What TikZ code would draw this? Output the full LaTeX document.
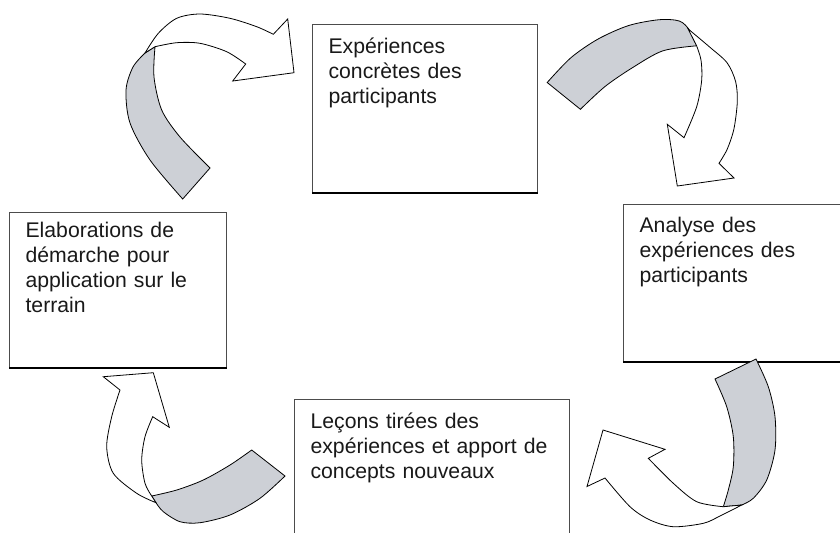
\documentclass[tikz,border=0pt]{standalone}
\usepackage{fontspec}
\setmainfont{Liberation Sans}
\definecolor{foldgray}{RGB}{205,208,214}

\begin{document}
\begin{tikzpicture}[x=0.5pt, y=-0.5pt,
    box/.style={draw=black!70, line width=0.6pt, anchor=north west, align=left,
      inner xsep=8pt, inner ysep=0pt, text=black!90, font=\fontsize{10.6}{12.4}\selectfont},
    back/.style={fill=foldgray, draw=black, line width=0.4pt},
    front/.style={fill=white, draw=black, line width=0.4pt}]
    \useasboundingbox (0,0) rectangle (840,532);
    \clip (0,0) rectangle (840,532);

    % Boxes: name / left / top / width / height / first baseline / text
    \foreach \name/\x/\y/\w/\h/\bl/\txt in {
      exp/312/24/225/168/29/{Expériences\\concrètes des\\participants},
      ana/623/204/240/157/28/{Analyse des\\expériences des\\participants},
      lec/294/399/275/160/29/{Leçons tirées des\\expériences et apport de\\concepts nouveaux},
      ela/9/212/217/155/25/{Elaborations de\\démarche pour\\application sur le\\terrain}} {
      \pgfmathsetmacro\twd{(\w-32)*0.5}
      \pgfmathsetmacro\tht{\bl*0.5}
      \pgfmathsetmacro\tdp{(\h-\bl)*0.5}
      \node[box, text width=\twd pt, text height=\tht pt, text depth=\tdp pt] (\name) at (\x,\y) {\txt};
      \draw[line width=1.1pt] (\name.south west) -- (\name.south east);
    }

    % Arrow from ela to exp
    \filldraw[back] (182.7,199) -- plot[smooth] coordinates {(182.7,199) (150,160) (130,123) (126,90) (133,67) (145,53)}
      -- (155,46.7) -- plot[smooth] coordinates {(155,46.7) (154,77) (161.7,110) (180,137) (210,168)} -- cycle;
    \filldraw[front] plot[smooth] coordinates {(145,53) (158.3,33.3) (176.7,18.3) (200,14) (230,18.3) (256.7,26.7) (273.3,34.3)}
      -- (287.7,19) -- (294,72.7) -- (232.7,81) -- (245.7,64)
      -- plot[smooth] coordinates {(245.7,64) (226.7,51.7) (200,43.3) (176.7,42.7) (155,46.7)} -- cycle;

    % Arrow from exp to ana
    \filldraw[back] (547.2,82.5) -- plot[smooth] coordinates {(547.2,82.5) (570.9,57.7) (598.1,39) (628.7,25.5) (659.2,19.7) (679.6,21.1) (689.8,30.6) (696.6,45.8)}
      -- plot[smooth] coordinates {(696.6,45.8) (662.6,50.9) (632.1,67.9) (604.9,86.6) (580.4,109.3)} -- cycle;
    \filldraw[front] plot[smooth] coordinates {(688.1,28.9) (710.2,47.5) (727.1,62.8) (735.6,81.5) (737.3,101.9) (733.9,129) (727.1,149.4) (719,163.3)}
      -- (734,178) -- (677.3,186) -- (667.3,124.3) -- (684,137.7)
      -- plot[smooth] coordinates {(684,137.7) (696.7,106.7) (701.7,80) (701,60) (696.6,45.8)} -- cycle;

    % Arrow from ana to lec
    \filldraw[back] (715,379) -- (756,359) -- plot[smooth] coordinates {(756,359) (768.3,386.7) (775,416.7) (775,450) (766.7,480) (753.3,498.3) (741.7,505)}
      -- (723.3,506.7) -- plot[smooth] coordinates {(723.3,506.7) (728.3,490) (733.3,466.7) (733.3,436.7) (726.7,406.7) (715,379)} -- cycle;
    \filldraw[front] plot[smooth] coordinates {(741.7,505) (720,516) (703.3,523.3) (673.3,526.7) (650,520) (630,506.7) (605,478)}
      -- (587,486.5) -- (603,430) -- (665,449.3) -- (648.3,458.3)
      -- plot[smooth] coordinates {(648.3,458.3) (673.3,483.3) (696.7,501.7) (723.3,506.7)} -- cycle;

    % Arrow from lec to ela
    \filldraw[back] (251.7,450) -- (285,476) -- plot[smooth] coordinates {(285,476) (260,498.3) (230,515) (200,522.7) (180,521.7) (163.3,511.7) (156,502.7)}
      -- (151.7,496) -- plot[smooth] coordinates {(151.7,496) (176.7,490) (203.3,480) (230,465) (251.7,450)} -- cycle;
    \filldraw[front] plot[smooth] coordinates {(156,502.7) (136.7,493.3) (113.3,473.3) (106.7,446.7) (111.7,416.7) (120,390)}
      -- (103.3,376.7) -- (153.3,372.7) -- (169.3,427.3) -- (152.7,416.7)
      -- plot[smooth] coordinates {(152.7,416.7) (145,436.7) (141.7,460) (145,483.3) (151.7,496)} -- cycle;
\end{tikzpicture}
\end{document}
